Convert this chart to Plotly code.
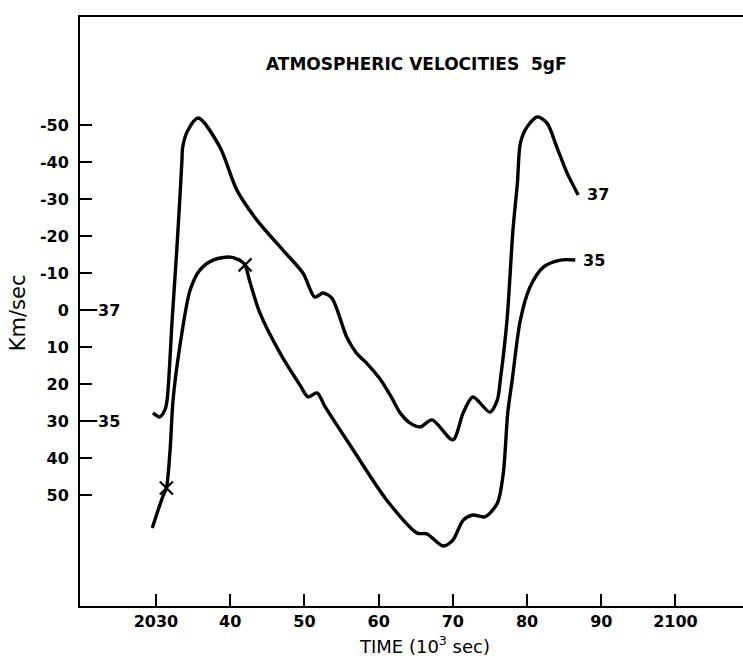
import plotly.graph_objects as go

# ---- data ----
t37 = [2029.6, 2030.5, 2031.2, 2031.5, 2032.2, 2032.8, 2033.2, 2033.5, 2033.6, 2034.3,
       2035.7, 2038.6, 2040.9, 2043.6, 2047.1, 2049.8, 2051.4, 2052.5, 2053.7, 2055.7,
       2057.0, 2058.5, 2060.1, 2061.7, 2062.9, 2064.2, 2065.6, 2067.2, 2070.0, 2071.4,
       2072.7, 2075.0, 2076.0, 2076.4, 2077.3, 2078.1, 2078.7, 2079.1, 2080.0, 2081.4,
       2082.7, 2084.0, 2085.4, 2086.9]
v37 = [27.8, 28.9, 27.0, 24.3, 1.9, -16.2, -29.7, -40.5, -44.1, -48.6,
       -51.9, -44.1, -32.4, -24.3, -16.2, -10.0, -3.5, -4.6, -3.2, 7.3,
       11.6, 14.6, 18.4, 23.5, 27.8, 30.5, 31.6, 29.7, 35.1, 27.8,
       23.5, 27.6, 24.3, 18.9, 2.7, -21.6, -34.3, -45.1, -49.5, -52.2,
       -50.5, -44.1, -37.0, -31.1]

t35 = [2029.5, 2030.9, 2031.4, 2031.9, 2032.3, 2033.2, 2034.6, 2035.9, 2037.7, 2040.0,
       2041.6, 2042.0, 2042.7, 2044.0, 2046.7, 2049.4, 2050.5, 2051.7, 2052.8, 2056.4,
       2061.1, 2065.2, 2066.5, 2068.7, 2070.0, 2071.4, 2072.7, 2074.3, 2076.0, 2076.8,
       2077.4, 2078.0, 2079.1, 2080.4, 2082.2, 2084.5, 2086.5]
v35 = [58.9, 50.5, 48.1, 37.8, 24.3, 10.0, -5.4, -10.8, -13.5, -14.3,
       -13.0, -12.2, -7.3, 0.8, 11.6, 20.3, 23.5, 22.4, 26.2, 37.3,
       51.4, 60.3, 60.5, 63.8, 62.2, 56.8, 55.4, 55.9, 52.2, 44.1,
       27.8, 18.9, 2.7, -6.2, -11.6, -13.5, -13.5]

# crosses marked on curve 35
x_marks_t = [2031.4, 2042.0]
x_marks_v = [48.1, -12.2]

# axis ticks
x_tickvals = [2030, 2040, 2050, 2060, 2070, 2080, 2090, 2100]
x_ticktext = ["2030", "40", "50", "60", "70", "80", "90", "2100"]
y_tickvals = [-50, -40, -30, -20, -10, 0, 10, 20, 30, 40, 50]
y_ticktext = ["-50", "-40", "-30", "-20", "-10", "0", "10", "20", "30", "40", "50"]

# zero reference of each curve on the left axis
ref_names = ["37", "35"]
ref_levels = [0, 30]

FONT = "DejaVu Sans"

fig = go.Figure()
for t, v in [(t37, v37), (t35, v35)]:
    fig.add_trace(go.Scatter(x=t, y=v, mode="lines",
                             line=dict(color="black", width=3.4, shape="spline", smoothing=0.8),
                             hoverinfo="skip", showlegend=False))
fig.add_trace(go.Scatter(x=x_marks_t, y=x_marks_v, mode="markers",
                         marker=dict(symbol="x-thin", size=13, line=dict(color="black", width=2.2)),
                         showlegend=False, hoverinfo="skip"))

# curve end labels
fig.add_annotation(x=t37[-1], y=v37[-1], text="37", showarrow=False, xanchor="left", yanchor="middle",
                   xshift=7, font=dict(family=FONT, size=16, color="black", weight="bold"))
fig.add_annotation(x=t35[-1], y=v35[-1], text="35", showarrow=False, xanchor="left", yanchor="middle",
                   xshift=6, font=dict(family=FONT, size=16, color="black", weight="bold"))

# reference marks on left axis
for name, lvl in zip(ref_names, ref_levels):
    fig.add_shape(type="line", xref="paper", yref="y", x0=0, x1=0.026, y0=lvl, y1=lvl,
                  line=dict(color="black", width=2))
    fig.add_annotation(xref="paper", yref="y", x=0.026, y=lvl, text=name, showarrow=False,
                       xanchor="left", yanchor="middle", xshift=-1,
                       font=dict(family=FONT, size=16, color="black", weight="bold"))

# title and axis titles
fig.add_annotation(xref="paper", yref="paper", x=0.507, y=0.92, text="ATMOSPHERIC VELOCITIES  5gF",
                   showarrow=False, xanchor="center", yanchor="middle",
                   font=dict(family=FONT, size=17, color="black", weight="bold"))
fig.add_annotation(xref="paper", yref="paper", x=0.52, y=-0.066, text="TIME (10<sup>3</sup> sec)",
                   showarrow=False, xanchor="center", yanchor="middle",
                   font=dict(family=FONT, size=18, color="black"))
fig.add_annotation(xref="paper", yref="paper", x=-0.0935, y=0.497, text="Km/sec", textangle=-90,
                   showarrow=False, xanchor="center", yanchor="middle",
                   font=dict(family=FONT, size=21, color="black"))

fig.update_xaxes(range=[2019.76, 2109.1], tickvals=x_tickvals, ticktext=x_ticktext,
                 ticks="inside", ticklen=12, tickwidth=1.5, tickcolor="black",
                 showline=True, linecolor="black", linewidth=2, mirror=True,
                 showgrid=False, zeroline=False,
                 tickfont=dict(family=FONT, size=16, color="black", weight="bold"))
fig.update_yaxes(range=[80.0, -79.2], tickvals=y_tickvals, ticktext=y_ticktext,
                 ticks="inside", ticklen=12, tickwidth=1.5, tickcolor="black",
                 showline=True, linecolor="black", linewidth=2,
                 showgrid=False, zeroline=False, ticklabelstandoff=6,
                 tickfont=dict(family=FONT, size=16, color="black", weight="bold"))
fig.update_layout(width=743, height=658, margin=dict(l=80, r=0, t=17, b=52),
                  plot_bgcolor="white", paper_bgcolor="white", showlegend=False)

fig.write_html("out.html")
